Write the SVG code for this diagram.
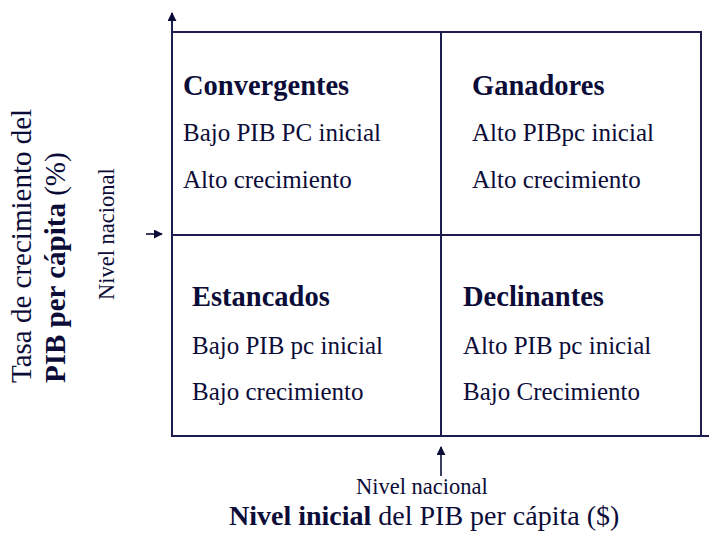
<svg xmlns="http://www.w3.org/2000/svg" width="709" height="533" viewBox="0 0 709 533">
<style>
text{font-family:"Liberation Serif","Times New Roman",serif;fill:#0c0c38}
.h{font-size:28.5px;font-weight:bold}
.r{font-size:25px}
.ax{font-size:28px}
.ay{font-size:29px}
.sm{font-size:22.5px}
.b{font-weight:bold}
.ln{stroke:#1e1e4e;stroke-width:2;fill:none}
.ar{stroke:#0c0c38;stroke-width:1.6;fill:none}
</style>
<defs>
<marker id="ah" viewBox="0 0 10 10" refX="9" refY="5" markerWidth="9" markerHeight="9" markerUnits="userSpaceOnUse" orient="auto">
<path d="M0,0 L10,5 L0,10 Z" fill="#0c0c38"/>
</marker>
</defs>
<rect width="709" height="533" fill="#fff"/>
<g id="connectors">
<line class="ln" x1="172" y1="437" x2="172" y2="13" marker-end="url(#ah)"/>
<line class="ln" x1="172" y1="32" x2="701" y2="32"/>
<line class="ln" x1="701" y1="31" x2="701" y2="436"/>
<line class="ln" x1="171" y1="436" x2="709" y2="436"/>
<line class="ln" x1="441" y1="32" x2="441" y2="436"/>
<line class="ln" x1="172" y1="235" x2="701" y2="235"/>
<line class="ar" x1="146" y1="234" x2="162" y2="234" marker-end="url(#ah)"/>
<line class="ar" x1="441" y1="476" x2="441" y2="447" marker-end="url(#ah)"/>
</g>
<g id="convergentes">
<text class="h" x="183" y="95">Convergentes</text>
<text class="r" x="183" y="141">Bajo PIB PC inicial</text>
<text class="r" x="183" y="188">Alto crecimiento</text>
</g>
<g id="ganadores">
<text class="h" x="472" y="95">Ganadores</text>
<text class="r" x="472" y="141">Alto PIBpc inicial</text>
<text class="r" x="472" y="188">Alto crecimiento</text>
</g>
<g id="estancados">
<text class="h" x="192" y="306">Estancados</text>
<text class="r" x="192" y="354">Bajo PIB pc inicial</text>
<text class="r" x="192" y="400">Bajo crecimiento</text>
</g>
<g id="declinantes">
<text class="h" x="463" y="306">Declinantes</text>
<text class="r" x="463" y="354">Alto PIB pc inicial</text>
<text class="r" x="463" y="400">Bajo Crecimiento</text>
</g>
<g id="y-axis-label">
<text class="ay" transform="translate(31,383) rotate(-90)">Tasa de crecimiento del</text>
<text class="ay" transform="translate(65,383) rotate(-90)"><tspan class="b">PIB per cápita</tspan> (%)</text>
<text class="sm" transform="translate(114,300) rotate(-90)">Nivel nacional</text>
</g>
<g id="x-axis-label">
<text class="sm" x="356" y="494">Nivel nacional</text>
<text class="ax" x="229" y="525"><tspan class="b">Nivel inicial</tspan> del PIB per cápita ($)</text>
</g>
</svg>
